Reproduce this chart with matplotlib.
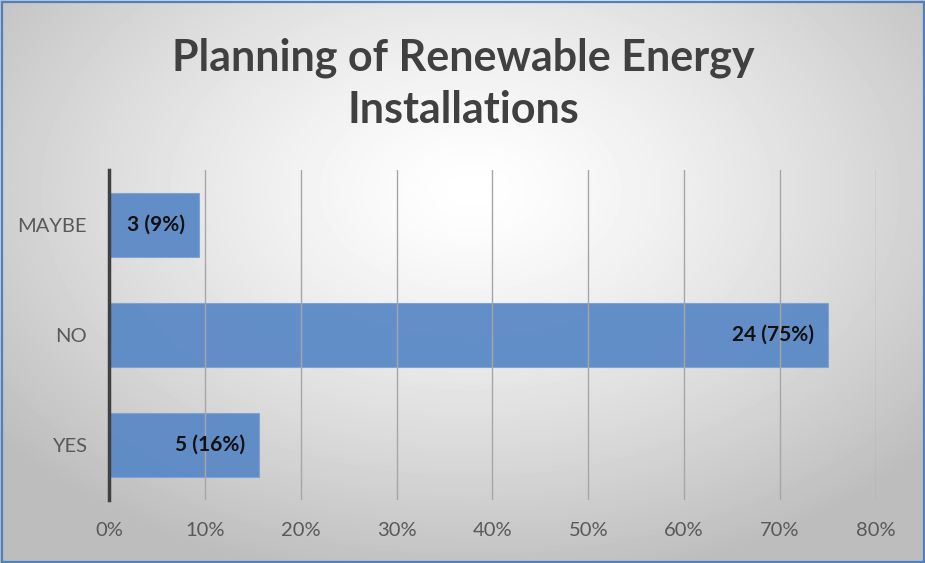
import numpy as np
import matplotlib
matplotlib.use("Agg")
from matplotlib import pyplot as plt
from matplotlib.patches import Rectangle


# Chart data
CATEGORIES = ["YES", "NO", "MAYBE"]
COUNTS = [5, 24, 3]
TOTAL = 32
X_TICKS = [0, 0.1, 0.2, 0.3, 0.4, 0.5, 0.6, 0.7, 0.8]
TITLE = "Planning of Renewable Energy\nInstallations"

BAR_COLOR = "#5b89c6"
TEXT_GRAY = "#595959"

plt.rcParams["font.family"] = ["Lato", "DejaVu Sans"]

fig = plt.figure(figsize=(9.25, 5.63), dpi=100)

# Background with radial gradient
bg = fig.add_axes([0, 0, 1, 1])
yy, xx = np.mgrid[0:563, 0:925]
dist = np.sqrt(((xx - 470) / 600.0) ** 2 + ((yy - 190) / 400.0) ** 2)
shade = np.clip(1.0 - 0.26 * dist ** 1.3, 0.74, 1.0)
bg.imshow(shade, cmap="gray", vmin=0, vmax=1, aspect="auto",
          extent=[0, 925, 563, 0], interpolation="bilinear")
bg.add_patch(Rectangle((1.5, 1.5), 922, 560, fill=False,
                       edgecolor="#4f81bd", linewidth=1.6))
bg.set_xlim(0, 925)
bg.set_ylim(563, 0)
bg.axis("off")

fig.text(0.501, 0.852, TITLE, ha="center", va="center", fontsize=31,
         fontweight="bold", color="#404040", linespacing=1.36)

ax = fig.add_axes([0.1178, 0.112, 0.829, 0.586])
ax.patch.set_alpha(0)

shares = [c / TOTAL for c in COUNTS]
ypos = np.arange(len(CATEGORIES))
bars = ax.barh(ypos, shares, height=0.59, color=BAR_COLOR,
               edgecolor="#7ea2d4", linewidth=0.8, alpha=0.95, zorder=2)

for b, c, s in zip(bars, COUNTS, shares):
    ax.annotate(f"{c} ({round(s * 100):.0f}%)",
                xy=(b.get_width(), b.get_y() + b.get_height() / 2),
                xytext=(-10, 0), textcoords="offset points",
                ha="right", va="center", fontsize=15, fontweight="bold",
                color="#111111", zorder=4)

ax.set_xlim(0, 0.8)
ax.set_ylim(-0.5, 2.5)
ax.set_xticks(X_TICKS)
ax.set_xticklabels([f"{int(round(t * 100))}%" for t in X_TICKS])
ax.set_yticks(ypos)
ax.set_yticklabels(CATEGORIES)
ax.tick_params(axis="both", length=0, labelsize=14.5, labelcolor=TEXT_GRAY)
ax.tick_params(axis="x", pad=16)
ax.tick_params(axis="y", pad=16)

ax.xaxis.grid(True, color="#a6a6a6", linewidth=1, zorder=3)
ax.set_axisbelow(False)
for side in ["top", "right", "bottom"]:
    ax.spines[side].set_visible(False)
ax.spines["left"].set_color("#404040")
ax.spines["left"].set_linewidth(2.5)
ax.spines["left"].set_zorder(5)

fig.savefig("out.png", dpi=100)
